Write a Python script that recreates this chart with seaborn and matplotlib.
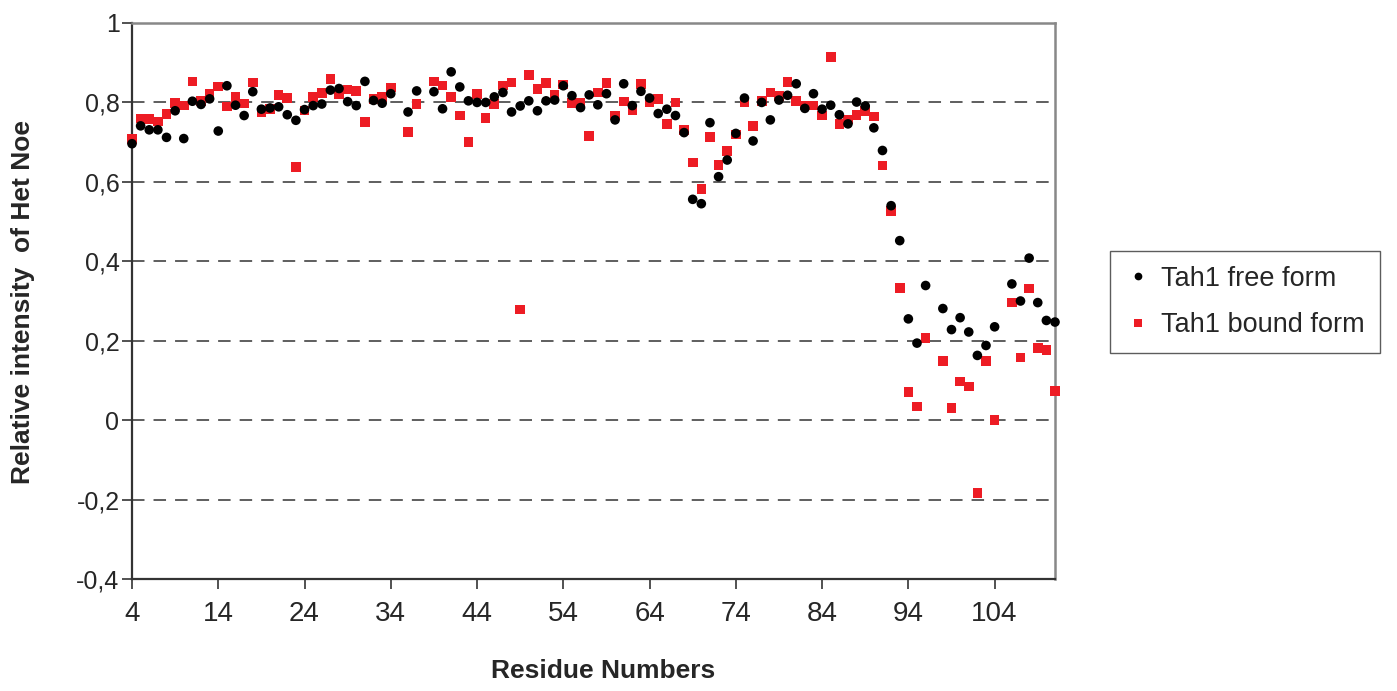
import numpy as np
import pandas as pd
import matplotlib
matplotlib.use("Agg")
import matplotlib.pyplot as plt
from matplotlib import font_manager
import seaborn as sns

# 잔기 번호 (35, 38, 97, 105 번은 측정값 없음)
residues = [4, 5, 6, 7, 8, 9, 10, 11, 12, 13, 14, 15, 16, 17, 18, 19, 20, 21, 22, 23,
            24, 25, 26, 27, 28, 29, 30, 31, 32, 33, 34, 35, 36, 37, 38, 39, 40, 41, 42, 43,
            44, 45, 46, 47, 48, 49, 50, 51, 52, 53, 54, 55, 56, 57, 58, 59, 60, 61, 62, 63,
            64, 65, 66, 67, 68, 69, 70, 71, 72, 73, 74, 75, 76, 77, 78, 79, 80, 81, 82, 83,
            84, 85, 86, 87, 88, 89, 90, 91, 92, 93, 94, 95, 96, 97, 98, 99, 100, 101, 102, 103,
            104, 105, 106, 107, 108, 109, 110, 111]

nan = np.nan
free_form = [0.696, 0.741, 0.731, 0.731, 0.712, 0.779, 0.709, 0.803, 0.795, 0.809,
             0.728, 0.842, 0.793, 0.767, 0.827, 0.783, 0.786, 0.789, 0.769, 0.755,
             0.782, 0.792, 0.796, 0.831, 0.835, 0.802, 0.792, 0.853, 0.805, 0.798,
             0.822, nan, 0.776, 0.829, nan, 0.827, 0.784, 0.877, 0.839, 0.804,
             0.800, 0.800, 0.814, 0.825, 0.776, 0.791, 0.804, 0.779, 0.804, 0.806,
             0.842, 0.817, 0.787, 0.819, 0.794, 0.822, 0.756, 0.847, 0.792, 0.828,
             0.811, 0.772, 0.783, 0.767, 0.724, 0.556, 0.545, 0.749, 0.613, 0.655,
             0.722, 0.811, 0.703, 0.800, 0.756, 0.806, 0.818, 0.847, 0.785, 0.822,
             0.783, 0.793, 0.769, 0.746, 0.801, 0.791, 0.736, 0.679, 0.540, 0.452,
             0.255, 0.194, 0.339, nan, 0.281, 0.228, 0.258, 0.222, 0.163, 0.188,
             0.235, nan, 0.343, 0.300, 0.408, 0.296, 0.251, 0.247]

bound_form = [0.708, 0.760, 0.758, 0.752, 0.771, 0.798, 0.792, 0.853, 0.803, 0.822,
              0.840, 0.790, 0.814, 0.797, 0.850, 0.776, 0.783, 0.819, 0.811, 0.637,
              0.780, 0.813, 0.824, 0.859, 0.822, 0.833, 0.829, 0.751, 0.809, 0.814,
              0.838, nan, 0.725, 0.796, nan, 0.853, 0.843, 0.814, 0.767, 0.701,
              0.822, 0.761, 0.796, 0.843, 0.850, 0.279, 0.869, 0.834, 0.849, 0.819,
              0.845, 0.798, 0.800, 0.716, 0.825, 0.849, 0.767, 0.802, 0.780, 0.847,
              0.800, 0.809, 0.746, 0.800, 0.731, 0.649, 0.582, 0.713, 0.643, 0.677,
              0.719, 0.800, 0.741, 0.803, 0.825, 0.816, 0.852, 0.803, 0.792, 0.792,
              0.767, 0.914, 0.746, 0.757, 0.769, 0.779, 0.765, 0.641, 0.526, 0.332,
              0.071, 0.034, 0.207, nan, 0.149, 0.030, 0.097, 0.085, -0.184, 0.149,
              0.000, nan, 0.296, 0.158, 0.331, 0.182, 0.177, 0.074]

series_names = ["Tah1 free form", "Tah1 bound form"]
x_ticks = [4, 14, 24, 34, 44, 54, 64, 74, 84, 94, 104]
y_ticks = [-0.4, -0.2, 0, 0.2, 0.4, 0.6, 0.8, 1]
y_tick_labels = ["-0,4", "-0,2", "0", "0,2", "0,4", "0,6", "0,8", "1"]

# 결합형을 먼저 넣어서 자유형 점이 위에 그려지도록 함
df = pd.concat([
    pd.DataFrame({"residue": residues, "value": bound_form, "form": series_names[1]}),
    pd.DataFrame({"residue": residues, "value": free_form, "form": series_names[0]}),
]).dropna()

sns.set_style("white")
names = {f.name for f in font_manager.fontManager.ttflist}
xfont = "Liberation Sans Narrow" if "Liberation Sans Narrow" in names else "Liberation Sans"
plt.rcParams["font.family"] = ["Liberation Sans", "DejaVu Sans"]
plt.rcParams["lines.scale_dashes"] = False

fig = plt.figure(figsize=(13.97, 6.91), dpi=100)
ax = fig.add_axes([132 / 1397, 1 - 579 / 691, (1055 - 132) / 1397, (579 - 23) / 691])

sns.scatterplot(data=df, x="residue", y="value", hue="form", style="form",
                hue_order=series_names, style_order=series_names,
                palette={series_names[0]: "black", series_names[1]: "#ED1C24"},
                markers={series_names[0]: "o", series_names[1]: "s"},
                s=48, linewidth=0, clip_on=False, ax=ax, zorder=3)

ax.set_xlim(4, 111)
ax.set_ylim(-0.4, 1)
ax.set_xticks(x_ticks)
ax.set_xticklabels([str(t) for t in x_ticks], fontsize=20, family=xfont)
ax.set_yticks(y_ticks)
ax.set_yticklabels(y_tick_labels, fontsize=18)
ax.tick_params(axis="y", direction="out", length=7, width=1.2, color="#333333", pad=2, left=True)
ax.tick_params(axis="x", direction="out", length=7, width=1.2, color="#333333", pad=9, bottom=True)

ax.yaxis.grid(True, color="#333333", linewidth=1.1, linestyle=(0, (9, 6.5)))
ax.xaxis.grid(False)
ax.set_axisbelow(True)

for side in ["left", "bottom"]:
    ax.spines[side].set_color("#333333")
    ax.spines[side].set_linewidth(1.6)
for side in ["top", "right"]:
    ax.spines[side].set_color("#888888")
    ax.spines[side].set_linewidth(1.8)

ax.set_xlabel("Residue Numbers", fontsize=19, fontweight="bold")
ax.set_ylabel("Relative intensity  of Het Noe", fontsize=19, fontweight="bold")
ax.xaxis.set_label_coords((603 - 132) / 923, (579 - 659) / 556)
ax.yaxis.set_label_coords((35 - 132) / 923, (579 - 302) / 556)

ax.legend_.remove()
handles, labels = ax.get_legend_handles_labels()
leg = fig.legend(handles, labels, loc="center left",
                 bbox_to_anchor=(1110 / 1397, 1 - 302 / 691),
                 fontsize=19.5, frameon=True, fancybox=False, shadow=False,
                 borderpad=0.55, borderaxespad=0, handlelength=1.0, handletextpad=0.35,
                 labelspacing=0.75, markerscale=0.8)
leg.get_frame().set_edgecolor("#333333")
leg.get_frame().set_linewidth(1.0)

fig.savefig("out.png", dpi=100)
